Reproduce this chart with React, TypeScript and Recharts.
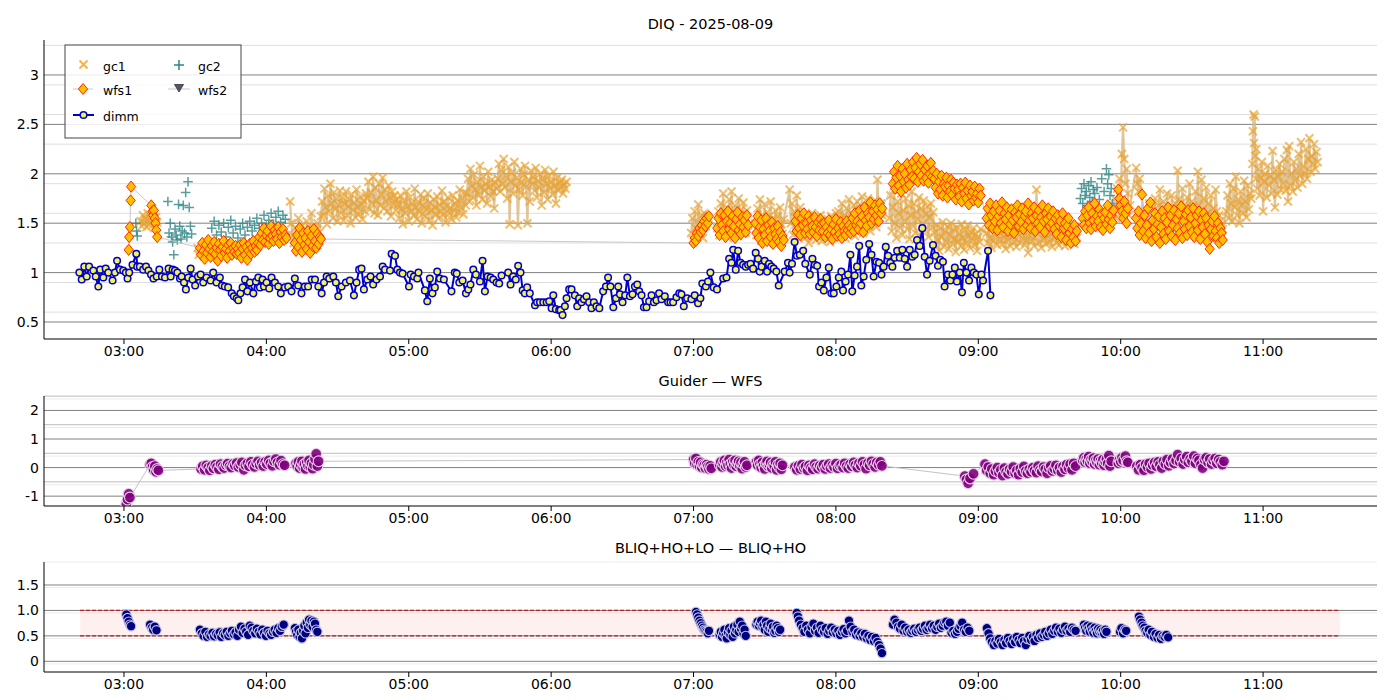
import React from 'react';
import { ScatterChart, Scatter, XAxis, YAxis, CartesianGrid, ReferenceLine, ReferenceArea } from 'recharts';

type P = [number, number];

// ---- time axis (minutes after 00:00) ----
const X_TICKS = [180, 240, 300, 360, 420, 480, 540, 600, 660];
const X_DOMAIN: [number, number] = [146.3, 708];

// ---- top panel: DIQ ----
const dimm: P[] = [
[161.2,1.00],[162.2,0.93],[163.3,1.06],[164.3,0.96],[165.3,1.06],[167.1,1.02],[168.1,0.96],[169.2,0.86],[170.0,1.03],[171.3,0.95],[172.3,1.04],[173.4,1.00],[175.2,0.92],[176.2,1.00],[177.1,1.12],[178.3,1.03],[179.7,1.02],[180.8,1.00],[181.5,0.94],[182.2,1.00],[183.6,1.08],[185.2,1.19],[185.6,1.06],[186.7,1.06],[188.1,1.03],[189.3,1.06],[190.3,1.02],[191.4,0.98],[192.4,0.94],[193.8,0.96],[194.9,1.03],[196.0,0.96],[197.3,0.95],[198.8,1.04],[199.7,0.96],[200.5,1.03],[201.5,1.02],[202.5,1.00],[203.6,0.94],[204.3,0.96],[205.3,0.90],[206.1,0.83],[207.1,0.95],[208.1,1.04],[208.9,0.93],[210.0,0.87],[211.2,0.96],[212.3,0.98],[213.4,0.90],[214.8,0.95],[216.5,0.92],[217.6,1.00],[219.0,0.90],[220.4,0.95],[221.3,0.87],[222.5,0.86],[223.9,0.85],[225.4,0.79],[226.3,0.76],[227.5,0.74],[228.2,0.72],[229.1,0.79],[230.0,0.85],[231.0,0.93],[232.0,0.81],[233.1,0.90],[234.5,0.79],[235.6,0.91],[236.6,0.95],[237.3,0.85],[238.4,0.93],[239.0,0.86],[240.1,0.90],[241.2,0.84],[242.2,0.95],[243.6,0.90],[245.0,0.86],[246.1,0.79],[247.8,0.85],[249.2,0.86],[250.6,0.81],[252.0,0.94],[253.4,0.87],[254.8,0.79],[256.2,0.86],[257.6,0.86],[259.1,0.93],[260.5,0.93],[261.9,0.86],[263.3,0.79],[264.3,0.90],[265.4,0.96],[266.5,0.94],[268.2,0.96],[269.3,0.90],[270.3,0.76],[271.7,0.86],[273.5,0.90],[275.2,0.92],[276.9,0.77],[278.0,0.90],[279.1,1.03],
[280.1,1.04],[281.1,0.83],[282.5,0.93],[283.9,0.96],[285.0,0.88],[286.4,0.93],[287.9,0.96],[289.0,1.06],[290.0,1.03],[292.1,1.02],[292.8,1.19],[294.2,1.17],[295.2,1.03],[296.3,1.00],[297.4,0.99],[300.1,0.86],[300.8,0.98],[302.2,0.96],[303.6,0.94],[304.1,1.00],[306.8,0.82],[307.8,0.71],[308.9,0.94],[310.0,0.79],[311.0,0.85],[312.0,1.01],[313.1,0.94],[314.8,0.93],[318.0,0.81],[319.4,1.00],[320.2,0.99],[321.3,0.90],[322.7,0.92],[324.1,0.79],[325.1,0.83],[326.0,0.88],[327.2,1.03],[328.3,0.98],[330.0,0.91],[331.1,1.12],[332.1,0.81],[333.2,0.96],[334.5,0.95],[335.6,0.93],[337.0,0.90],[338.1,0.89],[339.1,0.97],[341.9,1.00],[342.9,0.88],[344.0,0.96],[345.1,0.93],[346.1,1.07],[347.1,1.00],[348.0,0.82],[348.9,0.79],[349.9,0.85],[351.0,0.79],[353.2,0.67],[354.1,0.70],[355.3,0.70],[356.7,0.70],[358.1,0.70],[359.2,0.71],[360.2,0.64],[360.9,0.77],[362.0,0.63],[363.4,0.62],[364.0,0.62],[364.8,0.57],[365.8,0.66],[366.5,0.74],[367.6,0.83],[368.6,0.83],[370.0,0.77],[371.0,0.66],[371.8,0.74],[372.8,0.70],[373.8,0.73],[374.9,0.76],[376.0,0.70],[377.0,0.64],[378.0,0.70],[379.1,0.66],[380.3,0.64],[381.9,0.81],[383.1,0.86],[384.0,0.95],[385.0,0.86],[386.2,0.65],[387.3,0.74],[388.3,0.86],[389.0,0.78],[390.1,0.70],[391.2,0.77],[392.1,0.95],[393.2,0.76],[394.3,0.78],[395.3,0.86],[396.3,0.88],[397.1,0.81],[398.1,0.77],[399.1,0.65],[400.2,0.65],[401.3,0.71],[402.3,0.77],[403.3,0.70],[404.4,0.72],[405.5,0.79],[406.5,0.73],[407.9,0.76],[409.3,0.70],[410.3,0.70],[411.4,0.70],[412.8,0.75],[414.0,0.79],
[414.9,0.78],[415.9,0.66],[417.3,0.74],[419.1,0.73],[420.5,0.77],[421.9,0.69],[422.9,0.74],[423.7,0.89],[425.2,0.86],[426.1,0.91],[427.1,1.00],[428.5,0.85],[429.9,0.83],[432.5,0.94],[433.9,0.95],[435.0,1.14],[436.0,1.10],[436.7,1.23],[437.8,1.03],[438.8,1.22],[439.8,1.10],[440.9,1.08],[442.0,1.06],[443.0,1.08],[444.0,1.09],[445.1,1.04],[446.2,1.20],[447.2,1.14],[447.9,1.01],[448.7,1.06],[450.0,1.12],[451.0,1.01],[451.8,1.09],[452.8,1.06],[453.8,1.04],[454.9,1.01],[455.9,0.87],[458.4,1.01],[459.8,1.10],[460.5,1.00],[461.5,1.09],[462.6,1.31],[463.6,1.17],[464.8,1.18],[466.2,1.22],[467.1,1.09],[469.0,0.98],[470.1,1.14],[471.1,1.08],[472.1,1.07],[472.9,0.86],[473.9,0.90],[474.9,0.82],[476.0,0.95],[477.0,1.05],[478.1,0.79],[479.1,0.79],[480.2,0.86],[481.2,0.95],[482.3,1.01],[483.0,0.82],[484.1,0.91],[485.1,0.98],[486.1,1.18],[486.9,0.81],[487.9,0.97],[488.9,1.06],[489.8,1.27],[490.7,0.87],[491.7,0.96],[492.8,1.13],[494.0,1.29],[495.0,1.18],[495.9,0.96],[497.1,1.11],[498.2,1.10],[499.2,0.98],[500.1,1.06],[501.0,1.26],[502.0,1.17],[502.9,1.10],[503.8,1.06],[504.8,1.15],[505.8,1.22],[506.9,1.15],[508.0,1.23],[509.0,1.14],[510.0,1.06],[511.1,1.23],[512.2,1.16],[513.2,1.18],[514.2,1.33],[515.3,1.27],[516.4,1.45],[517.4,1.16],[518.4,0.98],[519.5,1.12],[520.9,1.28],[522.0,1.17],[523.0,1.07],[524.0,1.13],[525.1,1.11],[525.8,0.86],[527.2,0.98],[528.2,0.92],[529.1,0.98],[530.1,1.05],[531.0,0.91],[532.2,1.00],[533.1,0.80],[533.9,1.10],[535.0,1.00],[536.1,0.92],[537.1,1.05],[538.1,1.00],[539.2,0.98],[540.2,0.78],[541.3,0.98],[542.0,0.92],[544.1,1.22],[545.1,0.77]
];

const gc1: P[] = [
[187,1.52],[187.5,1.47],[188,1.58],[188.5,1.50],[189,1.55],[189.5,1.46],[190,1.60],[190.5,1.49],[191,1.54],[191.5,1.57],[192,1.48],[192.5,1.53],[193,1.45],[193.5,1.56],[194,1.51],
[211,1.25],[211.5,1.18],[212,1.22],
[250,1.72],[250.5,1.50],[251,1.38],[251.5,1.30],[252,1.45],[252.5,1.26],[253,1.35],[253.5,1.55],[254,1.42],[254.5,1.28],[255,1.48],[255.5,1.33],[256,1.40],[256.5,1.24],[257,1.52],[257.5,1.36],[258,1.30],[258.5,1.45],[259,1.60],[259.5,1.38],[260,1.27],[260.5,1.43],[261,1.35],[261.5,1.50],[262,1.31],[262.5,1.41],[263,1.57],
[263.5,1.72],[264,1.58],[264.5,1.85],[265,1.66],[265.5,1.49],[266,1.78],[266.5,1.62],[267,1.90],[267.5,1.70],[268,1.55],[268.5,1.81],[269,1.64],[269.5,1.75],[270,1.52],[270.5,1.68],[271,1.83],
[271.5,1.60],[272,1.76],[272.5,1.53],[273,1.70],[273.5,1.82],[274,1.58],[274.5,1.67],[275,1.74],[275.5,1.50],[276,1.79],[276.5,1.63],[277,1.71],[277.5,1.56],[278,1.84],[278.5,1.66],[279,1.59],[279.5,1.77],[280,1.69],[280.5,1.54],[281,1.73],[281.5,1.62],[282,1.80],
[282.5,1.75],[283,1.92],[283.5,1.64],[284,1.81],[284.5,1.70],[285,1.97],[285.5,1.60],[286,1.86],[286.5,1.73],[287,1.58],[287.5,1.90],[288,1.68],[288.5,1.79],[289,1.96],[289.5,1.65],[290,1.84],[290.5,1.72],[291,1.62],[291.5,1.88],[292,1.76],[292.5,1.57],[293,1.82],[293.5,1.69],[294,1.78],[294.5,1.63],[295,1.74],
[295.5,1.70],[296,1.55],[296.5,1.78],[297,1.64],[297.5,1.49],[298,1.73],[298.5,1.60],[299,1.82],[299.5,1.67],[300,1.52],[300.5,1.76],[301,1.62],[301.5,1.70],[302,1.58],[302.5,1.85],[303,1.66],[303.5,1.54],[304,1.72],[304.5,1.61],[305,1.79],[305.5,1.50],[306,1.68],[306.5,1.75],[307,1.57],[307.5,1.64],[308,1.80],[308.5,1.53],[309,1.71],[309.5,1.63],[310,1.48],[310.5,1.74],[311,1.66],[311.5,1.59],[312,1.77],[312.5,1.55],[313,1.69],[313.5,1.62],[314,1.83],[314.5,1.58],[315,1.72],[315.5,1.51],[316,1.67],[316.5,1.76],[317,1.60],[317.5,1.65],[318,1.54],[318.5,1.78],[319,1.63],[319.5,1.70],[320,1.56],[320.5,1.73],[321,1.61],[321.5,1.84],[322,1.66],[322.5,1.75],[323,1.59],[323.5,1.81],[324,1.68],
[324.5,1.80],[325,1.95],[325.5,1.72],[326,2.05],[326.5,1.88],[327,1.76],[327.5,1.99],[328,1.84],[328.5,1.68],[329,1.92],[329.5,1.79],[330,2.08],[330.5,1.86],[331,1.74],[331.5,1.97],[332,1.83],[332.5,1.90],[333,1.70],[333.5,2.02],[334,1.87],[334.5,1.77],[335,1.94],[335.5,1.82],[336,1.65],[336.5,1.91],[337,1.85],
[337.5,1.95],[338,2.10],[338.5,1.82],[339,2.04],[339.5,1.90],[340,2.15],[340.5,1.86],[341,1.98],[341.5,1.75],[342,2.07],[342.5,1.49],[343,1.92],[343.5,2.01],[344,1.80],[344.5,2.12],[345,1.88],[345.5,1.96],[346,1.48],[346.5,1.84],[347,2.05],[347.5,1.91],[348,1.78],[348.5,1.99],[349,2.08],[349.5,1.87],[350,1.50],[350.5,1.94],[351,1.72],[351.5,2.03],[352,1.89],[352.5,1.97],[353,1.83],[353.5,2.06],[354,1.76],[354.5,1.93],[355,1.86],[355.5,2.00],[356,1.68],[356.5,1.95],[357,1.81],[357.5,2.04],[358,1.90],[358.5,1.74],[359,1.98],[359.5,1.85],[360,1.92],[360.5,1.79],[361,2.02],[361.5,1.88],[362,1.70],[362.5,1.96],[363,1.83],[363.5,1.91],[364,1.86],[364.5,1.94],[365,1.80],[365.5,1.89],[366,1.85],[366.5,1.92],
[419,1.40],[419.5,1.55],[420,1.33],[420.5,1.62],[421,1.45],[421.5,1.37],[422,1.69],[422.5,1.50],[423,1.42],[423.5,1.58],[424,1.35],[424.5,1.60],[425,1.47],[425.5,1.52],
[430,1.45],[430.5,1.62],[431,1.38],[431.5,1.70],[432,1.52],[432.5,1.80],[433,1.41],[433.5,1.58],[434,1.66],[434.5,1.35],[435,1.74],[435.5,1.49],[436,1.82],[436.5,1.56],[437,1.43],[437.5,1.68],[438,1.60],[438.5,1.37],[439,1.75],[439.5,1.51],[440,1.64],[440.5,1.44],[441,1.71],[441.5,1.55],[442,1.40],[442.5,1.63],[443,1.48],
[446,1.50],[446.5,1.38],[447,1.65],[447.5,1.44],[448,1.74],[448.5,1.32],[449,1.58],[449.5,1.47],[450,1.69],[450.5,1.35],[451,1.61],[451.5,1.52],[452,1.40],[452.5,1.72],[453,1.46],[453.5,1.55],[454,1.30],[454.5,1.63],[455,1.42],[455.5,1.57],[456,1.36],[456.5,1.66],[457,1.49],[457.5,1.39],[458,1.54],
[460.5,1.84],[461,1.50],[461.5,1.70],[462,1.38],[462.5,1.62],[463,1.45],[463.5,1.78],[464,1.35],[464.5,1.55],[465,1.66],[465.5,1.42],[466,1.58],
[466.5,1.45],[467,1.35],[467.5,1.55],[468,1.40],[468.5,1.30],[469,1.52],[469.5,1.43],[470,1.60],[470.5,1.37],[471,1.48],[471.5,1.33],[472,1.56],[472.5,1.44],[473,1.39],[473.5,1.58],[474,1.32],[474.5,1.50],[475,1.41],[475.5,1.47],[476,1.36],[476.5,1.54],[477,1.45],[477.5,1.31],[478,1.57],[478.5,1.42],[479,1.49],[479.5,1.38],[480,1.60],
[480.5,1.46],[481,1.62],[481.5,1.38],[482,1.55],[482.5,1.70],[483,1.43],[483.5,1.58],[484,1.35],[484.5,1.65],[485,1.50],[485.5,1.74],[486,1.41],[486.5,1.60],[487,1.47],[487.5,1.68],[488,1.37],[488.5,1.56],[489,1.72],[489.5,1.44],[490,1.63],[490.5,1.52],[491,1.77],[491.5,1.40],[492,1.59],[492.5,1.66],[493,1.48],[493.5,1.75],[494,1.54],[494.5,1.42],[495,1.69],[495.5,1.61],[496,1.50],[496.5,1.73],[497,1.46],[497.5,1.94],[498,1.64],[498.5,1.55],[499,1.70],[499.5,1.58],
[502.5,1.55],[503,1.78],[503.5,1.42],[504,1.66],[504.5,1.84],[505,1.50],[505.5,1.35],[506,1.72],[506.5,1.60],[507,1.45],[507.5,1.80],[508,1.38],[508.5,1.63],[509,1.52],[509.5,1.75],[510,1.44],[510.5,1.68],[511,1.34],[511.5,1.58],[512,1.82],[512.5,1.47],[513,1.70],[513.5,1.40],[514,1.62],[514.5,1.54],[515,1.76],[515.5,1.37],[516,1.65],[516.5,1.49],[517,1.73],[517.5,1.43],[518,1.59],[518.5,1.67],[519,1.36],[519.5,1.56],[520,1.70],[520.5,1.46],[521,1.61],
[521.5,1.40],[522,1.28],[522.5,1.48],[523,1.33],[523.5,1.22],[524,1.45],[524.5,1.36],[525,1.51],[525.5,1.26],[526,1.42],[526.5,1.31],[527,1.47],[527.5,1.24],[528,1.38],[528.5,1.50],[529,1.29],[529.5,1.44],[530,1.34],[530.5,1.21],[531,1.46],[531.5,1.32],[532,1.40],[532.5,1.27],[533,1.49],[533.5,1.35],[534,1.23],[534.5,1.43],[535,1.30],[535.5,1.48],[536,1.37],[536.5,1.25],[537,1.41],[537.5,1.33],[538,1.45],[538.5,1.28],[539,1.39],[539.5,1.22],[540,1.36],[540.5,1.31],[541,1.44],
[543.5,1.40],[544,1.30],[544.5,1.48],[545,1.35],[545.5,1.25],[546,1.44],[546.5,1.32],[547,1.52],[547.5,1.38],[548,1.28],[548.5,1.46],[549,1.34],[549.5,1.55],[550,1.29],[550.5,1.42],[551,1.36],[551.5,1.24],[552,1.47],[552.5,1.33],[553,1.40],[553.5,1.27],[554,1.50],[554.5,1.37],[555,1.31],[555.5,1.45],[556,1.26],[556.5,1.39],[557,1.43],[557.5,1.30],[558,1.53],[558.5,1.35],[559,1.41],[559.5,1.28],[560,1.46],[560.5,1.33],[561,1.20],[561.5,1.38],[562,1.49],[562.5,1.32],[563,1.44],[563.5,1.27],[564,1.36],[564.5,1.84],[565,1.51],[565.5,1.30],[566,1.42],[566.5,1.25],[567,1.47],[567.5,1.34],[568,1.39],[568.5,1.29],[569,1.45],[569.5,1.37],[570,1.31],[570.5,1.50],[571,1.26],[571.5,1.41],[572,1.35],[572.5,1.48],[573,1.30],[573.5,1.43],[574,1.28],[574.5,1.38],[575,1.52],[575.5,1.33],[576,1.46],[576.5,1.27],[577,1.40],[577.5,1.36],[578,1.49],[578.5,1.31],[579,1.44],[579.5,1.34],[580,1.38],[580.5,1.29],[581,1.42],[581.5,1.35],
[597,1.60],[597.5,1.75],[598,1.55],[598.5,1.85],[599,1.65],[599.5,1.95],[600,1.70],[600.5,2.20],[601,2.47],[601.5,2.15],[602,1.90],[602.5,2.05],[603,1.80],[603.5,1.58],[604,1.68],
[606.5,2.06],[607,1.90],[607.5,1.82],[608,1.95],
[610,1.55],[610.5,1.45],[611,1.62],[611.5,1.50],[612,1.70],[612.5,1.42],[613,1.58],[613.5,1.66],[614,1.48],[614.5,1.75],[615,1.53],[615.5,1.44],[616,1.68],[616.5,1.84],[617,1.57],[617.5,1.49],[618,1.72],[618.5,1.60],[619,1.46],[619.5,1.80],[620,1.55],[620.5,1.65],[621,1.51],[621.5,1.78],[622,1.62],[622.5,1.47],[623,1.70],[623.5,1.58],[624,2.03],[624.5,1.74],[625,1.52],[625.5,1.64],[626,1.85],[626.5,1.56],[627,1.69],[627.5,1.48],[628,1.76],[628.5,1.61],[629,1.90],[629.5,1.54],[630,1.72],[630.5,1.66],[631,1.50],[631.5,1.82],[632,1.59],[632.5,2.02],[633,1.68],[633.5,1.55],[634,1.94],[634.5,1.63],[635,1.75],[635.5,1.52],[636,1.86],[636.5,1.60],[637,1.70],[637.5,1.49],[638,1.78],[638.5,1.57],[639,1.65],[639.5,1.53],[640,1.84],[640.5,1.62],[641,1.46],[641.5,1.58],[642,1.52],[642.5,1.48],[643,1.44],
[644.5,1.62],[645,1.78],[645.5,1.55],[646,1.90],[646.5,1.70],[647,1.52],[647.5,1.85],[648,1.66],[648.5,1.97],[649,1.58],[649.5,1.74],[650,1.50],[650.5,1.82],[651,1.68],[651.5,1.60],[652,1.93],[652.5,1.72],[653,1.56],[653.5,1.88],[654,1.64],[654.5,1.80],[655,1.75],
[655.5,2.10],[655.7,2.43],[656,2.60],[656.2,2.31],[656.5,2.58],[656.7,2.18],[657,1.95],[657.2,2.25],
[657.5,1.85],[658,2.05],[658.5,1.78],[659,1.96],[659.5,2.12],[660,1.62],[660.5,1.92],[661,2.00],[661.5,1.76],[662,2.08],[662.5,1.88],[663,1.98],[663.5,1.80],[664,2.23],[664.5,1.94],[665,1.66],[665.5,2.04],[666,1.79],[666.5,1.97],[667,2.10],[667.5,1.84],[668,2.02],[668.5,1.90],[669,2.15],[669.5,1.83],[670,2.24],[670.5,1.72],[671,2.28],[671.5,1.88],[672,2.00],[672.5,1.82],[673,2.12],[673.5,1.93],[674,2.05],[674.5,1.86],[675,2.20],[675.5,1.98],[676,2.32],[676.5,1.90],[677,2.08],[677.5,2.00],[678,2.25],[678.5,1.95],[679,2.15],[679.5,2.36],[680,2.02],[680.5,2.18],[681,2.10],[681.5,2.30],[682,2.05],[682.5,2.22],[683,2.12]
];

const gc2: P[] = [
[185,1.50],[185.3,1.42],[185.6,1.37],
[198.5,1.72],[199,1.40],[199.5,1.50],[200,1.36],[200.5,1.31],[201,1.18],[201.5,1.44],[202,1.38],[202.5,1.33],[203,1.69],[203.5,1.47],[204,1.34],[204.5,1.42],[205,1.68],[205.5,1.40],[206,1.81],[206.5,1.36],[207,1.92],[207.5,1.66],[208,1.47],[208.5,1.39],
[217,1.45],[218,1.52],[219,1.38],[220,1.48],[221,1.41],[222,1.50],[223,1.36],[224,1.46],[225,1.53],[226,1.40],[227,1.47],[228,1.35],[229,1.44],[230,1.50],[231,1.38],[232,1.46],[233,1.52],[234,1.42],[235,1.48],[236,1.55],[237,1.45],[238,1.50],[239,1.58],[240,1.47],[241,1.53],[242,1.60],[243,1.49],[244,1.56],[245,1.62],[246,1.51],[247,1.58],[248,1.54],
[583,1.75],[583.5,1.85],[584,1.70],[584.5,1.90],[585,1.78],[585.5,1.82],[586,1.68],[586.5,1.88],[587,1.76],[587.5,1.92],[588,1.72],[588.5,1.84],[589,1.80],[589.5,1.66],[590,1.86],[591,1.74],[592,1.95],[593,1.82],[594,2.05],[594.5,1.90],[595,1.99],[595.5,1.78],[596,1.85],[596.5,1.70]
];

const wfs1: P[] = [
[182,1.23],[182.2,1.36],[182.5,1.46],[182.8,1.73],[183,1.87],
[191.5,1.68],[192,1.62],[192.3,1.58],[192.6,1.63],[193,1.55],[193.3,1.50],[193.6,1.43],[194,1.36],
[212,1.25],[212.5,1.18],[213,1.30],[213.5,1.22],[214,1.14],[214.5,1.28],[215,1.20],[215.5,1.33],[216,1.24],[216.5,1.16],[217,1.27],[217.5,1.21],[218,1.31],[218.5,1.19],[219,1.25],[219.5,1.12],[220,1.29],[220.5,1.23],[221,1.17],[221.5,1.26],[222,1.32],[222.5,1.20],[223,1.24],[223.5,1.15],[224,1.28],[224.5,1.22],[225,1.30],[225.5,1.18],[226,1.25],[226.5,1.21],[227,1.27],[227.5,1.19],[228,1.24],
[228.5,1.20],[229,1.28],[229.5,1.15],[230,1.24],[230.5,1.30],[231,1.18],[231.5,1.26],[232,1.13],[232.5,1.22],[233,1.29],[233.5,1.19],[234,1.25],[234.5,1.32],[235,1.21],[235.5,1.27],[236,1.23],
[236.5,1.30],[237,1.36],[237.5,1.28],[238,1.40],[238.5,1.33],[239,1.45],[239.5,1.31],[240,1.38],[240.5,1.42],[241,1.29],[241.5,1.35],[242,1.47],[242.5,1.37],[243,1.32],[243.5,1.43],[244,1.39],[244.5,1.34],[245,1.46],[245.5,1.30],[246,1.41],[246.5,1.36],[247,1.44],[247.5,1.33],[248,1.38],[248.5,1.35],
[252,1.30],[252.5,1.22],[253,1.38],[253.5,1.26],[254,1.45],[254.5,1.33],[255,1.21],[255.5,1.40],[256,1.28],[256.5,1.35],[257,1.24],[257.5,1.42],[258,1.31],[258.5,1.20],[259,1.37],[259.5,1.27],[260,1.44],[260.5,1.32],[261,1.25],[261.5,1.39],[262,1.29],[262.5,1.36],[263,1.34],
[420,1.30],[420.5,1.35],[421,1.32],[421.5,1.40],[422,1.37],[422.5,1.45],[423,1.41],[423.5,1.48],[424,1.43],[424.5,1.52],[425,1.47],[425.5,1.55],[426,1.50],[426.5,1.57],
[430,1.45],[430.5,1.55],[431,1.38],[431.5,1.60],[432,1.48],[432.5,1.42],[433,1.58],[433.5,1.36],[434,1.52],[434.5,1.62],[435,1.44],[435.5,1.50],[436,1.40],[436.5,1.57],[437,1.47],[437.5,1.35],[438,1.54],[438.5,1.61],[439,1.43],[439.5,1.49],[440,1.39],[440.5,1.56],[441,1.46],[441.5,1.53],[442,1.41],[442.5,1.58],[443,1.48],
[446,1.50],[446.5,1.40],[447,1.57],[447.5,1.35],[448,1.46],[448.5,1.53],[449,1.30],[449.5,1.44],[450,1.38],[450.5,1.55],[451,1.32],[451.5,1.48],[452,1.42],[452.5,1.36],[453,1.51],[453.5,1.29],[454,1.45],[454.5,1.39],[455,1.34],[455.5,1.47],[456,1.31],[456.5,1.41],[457,1.27],[457.5,1.37],[458,1.33],
[463,1.52],[463.5,1.42],[464,1.58],[464.5,1.45],[465,1.38],[465.5,1.55],[466,1.48],[466.5,1.60],[467,1.40],[467.5,1.50],[468,1.44],[468.5,1.57],[469,1.39],[469.5,1.53],[470,1.47],[470.5,1.41],[471,1.56],[471.5,1.46],[472,1.37],[472.5,1.51],[473,1.43],[473.5,1.54],[474,1.49],
[474.5,1.42],[475,1.50],[475.5,1.36],[476,1.46],[476.5,1.40],[477,1.53],[477.5,1.38],[478,1.44],[478.5,1.34],[479,1.49],[479.5,1.41],[480,1.54],[480.5,1.37],[481,1.45],[481.5,1.39],[482,1.51],[482.5,1.35],[483,1.47],[483.5,1.42],[484,1.38],[484.5,1.52],[485,1.43],[485.5,1.48],[486,1.40],
[486.5,1.45],[487,1.55],[487.5,1.42],[488,1.60],[488.5,1.48],[489,1.52],[489.5,1.44],[490,1.63],[490.5,1.50],[491,1.57],[491.5,1.41],[492,1.66],[492.5,1.53],[493,1.47],[493.5,1.60],[494,1.56],[494.5,1.71],[495,1.50],[495.5,1.62],[496,1.54],[496.5,1.68],[497,1.58],[497.5,1.64],[498,1.52],[498.5,1.70],[499,1.60],[499.5,1.65],
[504,1.90],[504.5,2.02],[505,1.85],[505.5,1.96],[506,2.08],[506.5,1.88],[507,1.98],[507.5,1.82],[508,2.05],[508.5,1.92],[509,2.00],[509.5,1.86],[510,2.10],[510.5,1.94],[511,1.89],[511.5,2.04],[512,1.97],
[512.5,2.12],[513,1.95],[513.5,2.06],[514,2.16],[514.5,1.92],[515,2.02],[515.5,2.10],[516,1.98],[516.5,2.14],[517,1.93],[517.5,2.04],[518,1.96],[518.5,2.08],[519,1.91],[519.5,2.00],[520,2.11],[520.5,1.97],[521,2.03],
[521.5,1.95],[522,1.86],[522.5,2.00],[523,1.80],[523.5,1.92],[524,1.84],[524.5,1.98],[525,1.78],[525.5,1.90],[526,1.87],[526.5,1.96],[527,1.76],[527.5,1.88],[528,1.82],[528.5,1.94],[529,1.79],[529.5,1.91],[530,1.85],[530.5,1.74],[531,1.89],
[531.5,1.84],[532,1.77],[532.5,1.90],[533,1.72],[533.5,1.86],[534,1.80],[534.5,1.91],[535,1.75],[535.5,1.83],[536,1.69],[536.5,1.88],[537,1.78],[537.5,1.82],[538,1.73],[538.5,1.87],[539,1.76],[539.5,1.80],[540,1.71],[540.5,1.85],[541,1.78],
[543.5,1.55],[544,1.65],[544.5,1.48],[545,1.70],[545.5,1.58],[546,1.45],[546.5,1.62],[547,1.52],[547.5,1.68],[548,1.43],[548.5,1.57],[549,1.63],[549.5,1.50],[550,1.71],[550.5,1.46],[551,1.60],[551.5,1.54],[552,1.66],[552.5,1.42],[553,1.58],[553.5,1.49],[554,1.64],[554.5,1.53],[555,1.40],[555.5,1.61],[556,1.56],[556.5,1.68],[557,1.47],[557.5,1.59],[558,1.51],[558.5,1.65],[559,1.44],[559.5,1.57],[560,1.62],[560.5,1.48],[561,1.70],[561.5,1.53],[562,1.45],[562.5,1.60],[563,1.55],[563.5,1.66],[564,1.42],[564.5,1.58],[565,1.50],[565.5,1.63],[566,1.46],[566.5,1.56],[567,1.68],[567.5,1.52],[568,1.41],[568.5,1.60],[569,1.54],[569.5,1.65],[570,1.47],[570.5,1.57],[571,1.50],[571.5,1.62],[572,1.44],[572.5,1.55],[573,1.39],[573.5,1.58],[574,1.48],[574.5,1.52],[575,1.36],[575.5,1.60],[576,1.45],[576.5,1.50],[577,1.33],[577.5,1.47],[578,1.55],[578.5,1.40],[579,1.30],[579.5,1.44],[580,1.36],[580.5,1.48],[581,1.32],[581.5,1.42],
[584,1.55],[584.5,1.48],[585,1.62],[585.5,1.45],[586,1.58],[586.5,1.66],[587,1.50],[587.5,1.44],[588,1.60],[588.5,1.53],[589,1.70],[589.5,1.47],[590,1.57],[590.5,1.52],[591,1.64],[591.5,1.46],[592,1.59],[592.5,1.43],[593,1.55],[593.5,1.61],[594,1.49],[594.5,1.68],[595,1.54],[595.5,1.45],[596,1.58],[596.5,1.51],[597,1.63],
[599,1.84],[599.5,1.75],[600,1.68],[600.5,1.62],[601,1.55],[601.5,1.72],[602,1.60],[602.5,1.50],[603,1.65],
[606.5,1.55],[607,1.45],[607.5,1.62],[608,1.38],[608.5,1.50],[609,1.79],[609.5,1.42],[610,1.58],[610.5,1.35],[611,1.48],[611.5,1.65],[612,1.40],[612.5,1.71],[613,1.32],[613.5,1.53],[614,1.44],[614.5,1.60],[615,1.36],[615.5,1.49],[616,1.57],[616.5,1.30],[617,1.46],[617.5,1.62],[618,1.39],[618.5,1.55],[619,1.34],[619.5,1.51],[620,1.66],[620.5,1.42],[621,1.58],[621.5,1.37],[622,1.48],[622.5,1.63],[623,1.33],[623.5,1.54],[624,1.45],[624.5,1.60],[625,1.40],[625.5,1.67],[626,1.35],[626.5,1.52],[627,1.44],[627.5,1.59],[628,1.38],[628.5,1.63],[629,1.47],[629.5,1.56],[630,1.41],[630.5,1.65],[631,1.36],[631.5,1.50],[632,1.58],[632.5,1.43],[633,1.62],[633.5,1.34],[634,1.53],[634.5,1.46],[635,1.60],[635.5,1.39],[636,1.55],[636.5,1.31],[637,1.48],[637.5,1.24],[638,1.44],[638.5,1.52],[639,1.37],[639.5,1.57],[640,1.42],[640.5,1.35],[641,1.50],[641.5,1.30],[642,1.45],[642.5,1.40],[643,1.33]
];

const wfs2: P[] = [];

// ---- middle panel: Guider - WFS ----
const guiderMinusWfs: P[] = [
[181,-1.28],[181.5,-1.12],[182,-0.92],[182.5,-1.05],
[191,0.10],[191.5,0.15],[192,0.02],[192.5,-0.08],[193,0.05],[193.5,-0.15],[194,-0.05],[194.5,-0.10],
[212.5,-0.05],[213.2,0.05],[214,-0.08],[214.7,0.08],[215.5,0.00],[216.2,-0.10],[217,0.06],[217.7,-0.03],[218.5,0.10],[219.2,0.02],[220,-0.06],[220.7,0.12],[221.5,0.04],[222.2,-0.02],[223,0.09],[223.7,0.14],[224.5,0.05],[225.2,0.00],[226,0.13],[226.7,0.07],[227.5,0.16],[228.2,0.02],[229,0.10],[229.7,0.18],[230.5,-0.08],[231.2,0.08],[232,0.15],[232.7,0.04],[233.5,0.20],[234.2,0.10],[235,0.02],[235.7,0.14],[236.5,0.22],[237.2,0.08],[238,0.17],[238.7,0.05],[239.5,0.20],[240.2,0.12],[241,0.25],[241.7,0.15],[242.5,0.06],[243.2,0.22],[244,0.30],[244.7,0.18],[245.5,0.10],[246.2,0.24],[247,0.12],[247.7,0.08],
[252.5,0.15],[253,0.05],[253.5,0.20],[254,-0.02],[254.5,0.10],[255,0.22],[255.5,0.00],[256,0.12],[256.5,-0.05],[257,0.18],[257.5,0.06],[258,0.25],[258.5,0.02],[259,0.15],[259.5,-0.04],[260,0.10],[260.5,0.30],[261,0.48],[261.5,0.05],[262,0.22],
[420,0.28],[420.5,0.15],[421,0.32],[421.5,0.10],[422,0.20],[422.5,0.05],[423,0.18],[423.5,0.00],[424,0.12],[424.5,0.08],[425,-0.02],[425.5,0.10],[426,0.03],[426.5,-0.05],[427,0.06],[427.5,-0.03],
[431,0.10],[431.5,0.20],[432,0.02],[432.5,0.15],[433,0.25],[433.5,0.05],[434,0.18],[434.5,0.08],[435,0.28],[435.5,0.12],[436,-0.02],[436.5,0.20],[437,0.10],[437.5,0.25],[438,0.04],[438.5,0.15],[439,0.22],[439.5,0.06],[440,0.18],[440.5,-0.04],[441,0.12],[441.5,0.20],[442,0.02],[442.5,0.08],
[446.5,0.20],[447,0.08],[447.5,0.25],[448,0.12],[448.5,0.00],[449,0.18],[449.5,0.06],[450,-0.05],[450.5,0.15],[451,0.22],[451.5,0.04],[452,0.10],[452.5,0.18],[453,-0.02],[453.5,0.12],[454,0.06],[454.5,0.20],[455,-0.08],[455.5,0.10],[456,0.02],[456.5,0.15],[457,-0.06],[457.5,0.08],
[462.7,0.02],[463.5,-0.08],[464.2,0.06],[465,-0.05],[465.7,0.10],[466.5,-0.02],[467.2,0.04],[468,-0.10],[468.7,0.08],[469.5,0.00],[470.2,-0.06],[471,0.12],[471.7,0.02],[472.5,-0.04],[473.2,0.07],[474,0.00],[474.7,0.10],[475.5,-0.05],[476.2,0.05],[477,0.12],[477.7,-0.02],[478.5,0.08],[479.2,0.02],[480,0.14],[480.7,-0.03],[481.5,0.06],[482.2,0.10],[483,0.00],[483.7,0.15],[484.5,0.05],[485.2,-0.02],[486,0.12],[486.7,0.04],[487.5,0.18],[488.2,0.08],[489,0.00],[489.7,0.15],[490.5,0.06],[491.2,0.20],[492,0.10],[492.7,-0.04],[493.5,0.16],[494.2,0.08],[495,0.22],[495.7,0.12],[496.5,0.02],[497.2,0.18],[498,0.10],[498.7,0.20],[499.4,0.06],
[534.3,-0.30],[535,-0.42],[535.7,-0.55],[536.5,-0.38],[538,-0.22],
[542.8,0.12],[543.5,-0.10],[544.2,0.02],[545,-0.20],[545.7,-0.05],[546.5,-0.25],[547.2,-0.12],[548,0.00],[548.7,-0.18],[549.5,-0.08],[550.2,-0.28],[551,-0.02],[551.7,-0.15],[552.5,-0.22],[553.2,-0.06],[554,-0.14],[554.7,0.02],[555.5,-0.20],[556.2,-0.10],[557,-0.25],[557.7,-0.04],[558.5,-0.16],[559.2,0.04],[560,-0.12],[560.7,-0.20],[561.5,-0.06],[562.2,-0.15],[563,0.00],[563.7,-0.10],[564.5,-0.18],[565.2,0.05],[566,-0.08],[566.7,-0.14],[567.5,0.02],[568.2,-0.06],[569,-0.20],[569.7,-0.02],[570.5,0.06],[571.2,-0.12],[572,-0.04],[572.7,0.08],[573.5,-0.10],[574.2,0.00],[575,-0.16],[575.7,0.04],[576.5,-0.06],[577.2,0.10],[578,-0.02],[578.7,0.12],[579.5,-0.08],[580.2,0.15],[581,0.05],
[584,0.25],[584.5,0.35],[585,0.18],[585.5,0.30],[586,0.22],[586.5,0.38],[587,0.15],[587.5,0.28],[588,0.20],[588.5,0.33],[589,0.12],[589.5,0.26],[590,0.18],[590.5,0.30],[591,0.10],[591.5,0.24],[592,0.16],[592.5,0.28],[593,0.08],[593.5,0.20],[594,0.30],[594.5,0.14],[595,0.42],[595.5,0.05],[596,0.22],
[599,0.15],[599.5,0.28],[600,0.20],[600.5,0.35],[601,0.25],[602,0.40],[602.5,0.22],[603,0.18],
[606.8,0.05],[607.5,-0.08],[608.3,0.10],[609,0.00],[609.8,-0.10],[610.5,0.12],[611.3,0.02],[612,0.15],[612.8,-0.05],[613.5,0.08],[614.3,0.18],[615,0.04],[615.8,0.20],[616.5,0.10],[617.3,-0.02],[618,0.22],[618.8,0.12],[619.5,0.28],[620.3,0.06],[621,0.18],[621.8,0.30],[622.5,0.14],[623.3,0.25],[624,0.45],[624.8,0.20],[625.5,0.32],[626.3,0.12],[627,0.28],[627.8,0.38],[628.5,0.18],[629.3,0.30],[630,0.22],[630.8,0.40],[631.5,0.15],[632.3,0.32],[633,0.25],[633.8,0.10],[634.5,-0.02],[635.3,0.28],[636,0.35],[636.8,0.18],[637.5,0.30],[638.3,0.12],[639,0.25],[639.8,0.32],[640.5,0.15],[641.3,0.28],[642,0.20],[642.8,0.10],[643.5,0.22]
];

// ---- bottom panel: BLIQ+HO+LO - BLIQ+HO ----
const bliqDiff: P[] = [
[181,0.92],[181.5,0.85],[182,0.78],[182.5,0.72],[183,0.69],
[191,0.72],[191.7,0.66],[192.3,0.62],[193,0.68],[193.7,0.61],
[212,0.62],[212.8,0.55],[213.5,0.50],[214.3,0.58],[215,0.48],[215.8,0.53],[216.5,0.50],[217.3,0.56],[218,0.49],[218.8,0.54],[219.5,0.51],[220.3,0.57],[221,0.48],[221.8,0.55],[222.5,0.52],[223.3,0.58],[224,0.50],[224.8,0.55],[225.5,0.60],[226.3,0.53],[227,0.57],[227.8,0.50],[228.5,0.62],[229.3,0.68],[230,0.56],[230.8,0.64],[231.5,0.58],[232.3,0.52],[233,0.70],[233.8,0.66],[234.5,0.60],[235.3,0.55],[236,0.64],[236.8,0.58],[237.5,0.53],[238.3,0.62],[239,0.56],[239.8,0.50],[240.5,0.60],[241.3,0.55],[242,0.52],[242.8,0.58],[243.5,0.62],[244.3,0.56],[245,0.65],[245.8,0.60],[246.5,0.68],[247.3,0.72],
[252,0.65],[252.5,0.58],[253,0.52],[253.5,0.62],[254,0.48],[254.5,0.56],[255,0.45],[255.5,0.60],[256,0.70],[256.5,0.55],[257,0.76],[257.5,0.66],[258,0.82],[258.5,0.72],[259,0.80],[259.5,0.68],[260,0.78],[260.5,0.74],[261,0.62],[261.5,0.58],
[421,0.97],[421.5,0.92],[422,0.86],[422.5,0.80],[423,0.75],[423.5,0.70],[424,0.66],[424.5,0.62],[425,0.60],[425.5,0.58],[426,0.55],[426.5,0.60],
[431,0.52],[431.5,0.58],[432,0.48],[432.5,0.55],[433,0.62],[433.5,0.50],[434,0.45],[434.5,0.57],[435,0.65],[435.5,0.52],[436,0.60],[436.5,0.48],[437,0.68],[437.5,0.55],[438,0.62],[438.5,0.72],[439,0.58],[439.5,0.78],[440,0.64],[440.5,0.70],[441,0.55],[441.5,0.62],[442,0.50],
[446.5,0.72],[447,0.78],[447.5,0.70],[448,0.75],[448.5,0.80],[449,0.68],[449.5,0.72],[450,0.62],[450.5,0.78],[451,0.70],[451.5,0.58],[452,0.65],[452.5,0.74],[453,0.62],[453.5,0.68],[454,0.56],[454.5,0.60],[455,0.70],[455.5,0.65],[456,0.58],[456.5,0.62],
[463.5,0.95],[464,0.88],[464.5,0.80],[465.2,0.72],[466,0.65],[466.7,0.58],[467.5,0.70],[468.2,0.62],[469,0.55],[469.7,0.68],[470.5,0.74],[471.2,0.60],[472,0.66],[472.7,0.56],[473.5,0.70],[474.2,0.62],[475,0.58],[475.7,0.65],[476.5,0.54],[477.2,0.60],[478,0.66],[478.7,0.57],[479.5,0.62],[480.2,0.55],[481,0.60],[481.7,0.52],[482.5,0.58],[483.2,0.63],[484,0.55],[484.7,0.60],[485.5,0.80],[486.2,0.68],[487,0.58],[487.7,0.62],[488.5,0.52],[489.2,0.57],[490,0.50],[490.7,0.55],[491.5,0.48],[492.2,0.54],[493,0.45],[493.7,0.50],[494.5,0.42],[495.2,0.48],[496,0.40],[496.7,0.46],[497.5,0.38],[498.2,0.32],[498.8,0.25],[499.4,0.16],
[504,0.72],[504.7,0.82],[505.5,0.76],[506.2,0.68],[507,0.64],[507.7,0.72],[508.5,0.60],[509.2,0.66],[510,0.58],[510.7,0.62],[511.5,0.56],[512.2,0.60],[513,0.64],[513.7,0.58],[514.5,0.62],[515.2,0.66],[516,0.60],[516.7,0.64],[517.5,0.70],[518.2,0.62],[519,0.66],[519.7,0.72],[520.5,0.65],[521.2,0.70],[522,0.62],[522.7,0.68],[523.5,0.74],[524.2,0.66],[525,0.70],[525.7,0.76],[526.5,0.78],[527.2,0.70],[528,0.76],[528.7,0.56],[529.5,0.60],[530.2,0.54],[531,0.58],[531.7,0.64],[532.5,0.70],[533.2,0.76],[534,0.62],[534.7,0.58],[535.5,0.66],[536.2,0.60],
[543.6,0.65],[544.3,0.55],[545,0.45],[545.7,0.38],[546.5,0.32],[547.2,0.40],[548,0.35],[548.7,0.44],[549.5,0.38],[550.2,0.32],[551,0.42],[551.7,0.36],[552.5,0.46],[553.2,0.40],[554,0.34],[554.7,0.44],[555.5,0.38],[556.2,0.48],[557,0.42],[557.7,0.36],[558.5,0.46],[559.2,0.40],[560,0.32],[560.7,0.44],[561.5,0.50],[562.2,0.42],[563,0.48],[563.7,0.40],[564.5,0.52],[565.2,0.46],[566,0.55],[566.7,0.48],[567.5,0.52],[568.2,0.58],[569,0.50],[569.7,0.55],[570.5,0.62],[571.2,0.54],[572,0.60],[572.7,0.66],[573.5,0.58],[574.2,0.64],[575,0.56],[575.7,0.62],[576.5,0.68],[577.2,0.60],[578,0.64],[578.7,0.58],[579.5,0.66],[580.2,0.62],[581,0.60],
[584.5,0.72],[585,0.66],[585.5,0.60],[586,0.70],[586.5,0.64],[587,0.58],[587.5,0.68],[588,0.62],[588.5,0.56],[589,0.66],[589.5,0.60],[590,0.55],[590.5,0.64],[591,0.58],[591.5,0.62],[592,0.56],[592.5,0.60],[593,0.54],[593.5,0.62],[594,0.58],
[599.7,0.58],[600.3,0.65],[601,0.55],[601.7,0.62],[602.3,0.60],
[607.7,0.88],[608.2,0.82],[608.8,0.76],[609.3,0.70],[610,0.66],[610.5,0.60],[611.2,0.56],[611.8,0.62],[612.5,0.52],[613.2,0.58],[614,0.48],[614.7,0.54],[615.5,0.46],[616.2,0.52],[617,0.44],[617.7,0.50],[618.5,0.48],[619.2,0.52],[620,0.47]
];

// tolerance band for the bottom panel
const BAND_LOW = 0.5;
const BAND_HIGH = 1.0;
const BAND_START = 161.5;
const BAND_END = 692.4;

// ---- axis setups ----
const TOP_DOMAIN: [number, number] = [0.328, 3.354];
const TOP_TICKS = [0.5, 1, 1.5, 2, 2.5, 3];
const MID_DOMAIN: [number, number] = [-1.345, 2.505];
const MID_TICKS = [-1, 0, 1, 2];
const MID_HALF = [-0.5, 0.5, 1.5, 2.5];
const BOT_DOMAIN: [number, number] = [-0.21, 1.952];
const BOT_TICKS = [0, 0.5, 1, 1.5];

const steps = (a: number, b: number, s: number) => {
  const out: number[] = [];
  const n = Math.round((b - a) / s);
  for (let i = 0; i <= n; i++) out.push(Math.round((a + i * s) * 1000) / 1000);
  return out;
};
const notHalf = (v: number) => Math.abs(v * 2 - Math.round(v * 2)) > 1e-6;
const TOP_MINOR = steps(0.4, 3.3, 0.1).filter(notHalf);
const MID_MINOR = steps(-1.3, 2.5, 0.1).filter(notHalf);
const BOT_MINOR = steps(-0.2, 1.95, 0.05).filter(notHalf);

const toPts = (a: P[]) => a.map(([t, v]) => ({ t, v }));
const splitSegments = (a: P[], gap: number) => {
  const segs: P[][] = [];
  let cur: P[] = [];
  for (const p of a) {
    if (cur.length && p[0] - cur[cur.length - 1][0] > gap) { segs.push(cur); cur = []; }
    cur.push(p);
  }
  if (cur.length) segs.push(cur);
  return segs;
};

const fmtTime = (t: number) => {
  const h = Math.floor(t / 60);
  const m = Math.round(t - h * 60);
  return `${String(h).padStart(2, '0')}:${String(m).padStart(2, '0')}`;
};

const FONT = '"DejaVu Sans", Verdana, sans-serif';
const tickStyle = { fontSize: 14, fill: '#000', fontFamily: FONT };

// ---- marker shapes ----
const NoShape = () => <g />;
const XShape = (p: any) => {
  const s = 4;
  return <path d={`M${p.cx - s},${p.cy - s}L${p.cx + s},${p.cy + s}M${p.cx - s},${p.cy + s}L${p.cx + s},${p.cy - s}`} stroke="#e8a232" strokeOpacity={0.7} strokeWidth={2} fill="none" />;
};
const PlusShape = (p: any) => {
  const s = 4.8;
  return <path d={`M${p.cx - s},${p.cy}L${p.cx + s},${p.cy}M${p.cx},${p.cy - s}L${p.cx},${p.cy + s}`} stroke="#2f8585" strokeOpacity={0.8} strokeWidth={1.5} fill="none" />;
};
const DiamondShape = (p: any) => {
  const w = 4.6, h = 5.6;
  return <path d={`M${p.cx},${p.cy - h}L${p.cx + w},${p.cy}L${p.cx},${p.cy + h}L${p.cx - w},${p.cy}Z`} fill="#ffbf00" stroke="#ff2a00" strokeWidth={1} />;
};
const DimmShape = (p: any) => <circle cx={p.cx} cy={p.cy} r={3.3} fill="#f2f25a" stroke="#0000cc" strokeWidth={1.5} />;
const PurpleShape = (p: any) => <circle cx={p.cx} cy={p.cy} r={5.4} fill="#800080" fillOpacity={0.9} stroke="#e6cfe6" strokeWidth={1.1} />;
const NavyShape = (p: any) => <circle cx={p.cx} cy={p.cy} r={4.7} fill="#000080" stroke="#c4c4e4" strokeWidth={1.1} />;

const xAxisEl = (h: number) => (
  <XAxis dataKey="t" type="number" domain={X_DOMAIN} ticks={X_TICKS} tickFormatter={fmtTime}
    allowDataOverflow axisLine={{ stroke: '#000', strokeWidth: 1 }} tickLine={{ stroke: '#000' }}
    tickSize={5} tickMargin={2} tick={tickStyle} height={h} interval={0} />
);

const Legend = () => (
  <svg width={178} height={95} style={{ position: 'absolute', left: 64, top: 44 }}>
    <rect x={1} y={1} width={176} height={93} fill="#fff" fillOpacity={0.85} stroke="#444" strokeWidth={1} />
    <path d="M15.5,16.5L23.5,24.5M15.5,24.5L23.5,16.5" stroke="#e8a232" strokeWidth={2} strokeOpacity={0.8} />
    <text x={39} y={22} fontSize={12.5} fontFamily={FONT} dominantBaseline="central">gc1</text>
    <path d="M110,21L120,21M115,16L115,26" stroke="#2f8585" strokeWidth={1.5} />
    <text x={134} y={22} fontSize={12.5} fontFamily={FONT} dominantBaseline="central">gc2</text>
    <path d="M9,45L29,45" stroke="#c8c8c8" strokeWidth={1} />
    <path d="M19,39.5L23.6,45L19,50.5L14.4,45Z" fill="#ffbf00" stroke="#ff2a00" strokeWidth={1} />
    <text x={39} y={46} fontSize={12.5} fontFamily={FONT} dominantBaseline="central">wfs1</text>
    <path d="M104,45L126,45" stroke="#c8c8c8" strokeWidth={1} />
    <path d="M110.5,40.5L119.5,40.5L115,48Z" fill="#555566" stroke="#333" strokeWidth={0.8} />
    <text x={134} y={46} fontSize={12.5} fontFamily={FONT} dominantBaseline="central">wfs2</text>
    <path d="M9,71L30,71" stroke="#0000cc" strokeWidth={2} />
    <circle cx={19.5} cy={71} r={3.3} fill="#f2f25a" stroke="#0000cc" strokeWidth={1.5} />
    <text x={39} y={72} fontSize={12.5} fontFamily={FONT} dominantBaseline="central">dimm</text>
  </svg>
);

const titleStyle = (top: number): React.CSSProperties => ({
  position: 'absolute', left: 44, width: 1333, top, textAlign: 'center',
  fontSize: 14.5, lineHeight: '18px', fontFamily: FONT, color: '#000',
});

export default function App() {
  const gc1Segments = splitSegments(gc1, 2.5);
  return (
    <div style={{ position: 'absolute', left: 0, top: 0, width: 1400, height: 700, background: '#fff', fontFamily: FONT }}>
      <div style={titleStyle(15)}>DIQ - 2025-08-09</div>
      <div style={titleStyle(372)}>Guider — WFS</div>
      <div style={titleStyle(539)}>BLIQ+HO+LO — BLIQ+HO</div>

      {/* top panel */}
      <div style={{ position: 'absolute', left: 0, top: 0 }}>
        <ScatterChart width={1400} height={370} margin={{ top: 40, right: 23, bottom: 0, left: 0 }}>
          <YAxis yAxisId="minor" hide type="number" domain={TOP_DOMAIN} ticks={TOP_MINOR} allowDataOverflow />
          <CartesianGrid yAxisId="minor" vertical={false} syncWithTicks stroke="#dedede" strokeWidth={1} />
          <CartesianGrid vertical={false} syncWithTicks stroke="#808080" strokeWidth={1} />
          {xAxisEl(31)}
          <YAxis dataKey="v" type="number" domain={TOP_DOMAIN} ticks={TOP_TICKS} allowDataOverflow width={44}
            axisLine={{ stroke: '#000' }} tickLine={false} tickSize={0} tickMargin={5} tick={tickStyle} interval={0} />
          {gc1Segments.map((seg, i) => (
            <Scatter key={`gl${i}`} data={toPts(seg)} shape={NoShape} line={{ stroke: '#d8b680', strokeWidth: 2.2, strokeOpacity: 0.8 }} isAnimationActive={false} />
          ))}
          <Scatter name="gc1" data={toPts(gc1)} shape={XShape} isAnimationActive={false} />
          <Scatter name="gc2" data={toPts(gc2)} shape={PlusShape} isAnimationActive={false} />
          <Scatter name="wfs2" data={toPts(wfs2)} shape={NoShape} isAnimationActive={false} />
          <Scatter name="wfs1" data={toPts(wfs1)} shape={DiamondShape} line={{ stroke: '#c8c8c8', strokeWidth: 1 }} isAnimationActive={false} />
          <Scatter name="dimm" data={toPts(dimm)} shape={DimmShape} line={{ stroke: '#0000cc', strokeWidth: 2 }} isAnimationActive={false} />
        </ScatterChart>
      </div>
      <Legend />

      {/* middle panel */}
      <div style={{ position: 'absolute', left: 0, top: 356 }}>
        <ScatterChart width={1400} height={180} margin={{ top: 40, right: 23, bottom: 0, left: 0 }}>
          <YAxis yAxisId="minor" hide type="number" domain={MID_DOMAIN} ticks={MID_MINOR} allowDataOverflow />
          <YAxis yAxisId="half" hide type="number" domain={MID_DOMAIN} ticks={MID_HALF} allowDataOverflow />
          <CartesianGrid yAxisId="minor" vertical={false} syncWithTicks stroke="#ececec" strokeWidth={1} />
          <CartesianGrid yAxisId="half" vertical={false} syncWithTicks stroke="#bdbdbd" strokeWidth={1} />
          <CartesianGrid vertical={false} syncWithTicks stroke="#808080" strokeWidth={1} />
          {xAxisEl(30)}
          <YAxis dataKey="v" type="number" domain={MID_DOMAIN} ticks={MID_TICKS} allowDataOverflow width={44}
            axisLine={{ stroke: '#000' }} tickLine={false} tickSize={0} tickMargin={5} tick={tickStyle} interval={0} />
          <Scatter name="guider-wfs" data={toPts(guiderMinusWfs)} shape={PurpleShape} line={{ stroke: '#c4c4c4', strokeWidth: 1 }} isAnimationActive={false} />
        </ScatterChart>
      </div>

      {/* bottom panel */}
      <div style={{ position: 'absolute', left: 0, top: 522 }}>
        <ScatterChart width={1400} height={180} margin={{ top: 40, right: 23, bottom: 0, left: 0 }}>
          <YAxis yAxisId="minor" hide type="number" domain={BOT_DOMAIN} ticks={BOT_MINOR} allowDataOverflow />
          <CartesianGrid yAxisId="minor" vertical={false} syncWithTicks stroke="#ececec" strokeWidth={1} />
          <CartesianGrid vertical={false} syncWithTicks stroke="#808080" strokeWidth={1} />
          {xAxisEl(30)}
          <YAxis dataKey="v" type="number" domain={BOT_DOMAIN} ticks={BOT_TICKS} allowDataOverflow width={44}
            tickFormatter={(v: number) => (v === 0 ? '0' : v.toFixed(1))}
            axisLine={{ stroke: '#000' }} tickLine={false} tickSize={0} tickMargin={5} tick={tickStyle} interval={0} />
          <ReferenceArea x1={BAND_START} x2={BAND_END} y1={BAND_LOW} y2={BAND_HIGH} fill="#ff0000" fillOpacity={0.06} stroke="none" />
          <ReferenceLine segment={[{ x: BAND_START, y: BAND_LOW }, { x: BAND_END, y: BAND_LOW }]} stroke="#b22222" strokeDasharray="4 2" strokeWidth={1.3} />
          <ReferenceLine segment={[{ x: BAND_START, y: BAND_HIGH }, { x: BAND_END, y: BAND_HIGH }]} stroke="#b22222" strokeDasharray="4 2" strokeWidth={1.3} />
          <Scatter name="bliq" data={toPts(bliqDiff)} shape={NavyShape} isAnimationActive={false} />
        </ScatterChart>
      </div>
    </div>
  );
}
